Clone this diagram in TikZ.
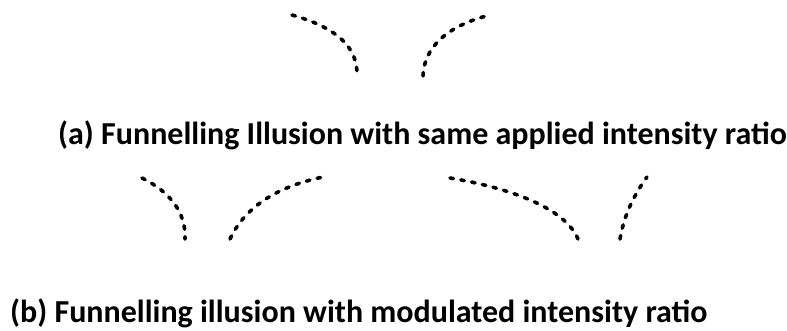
\documentclass[tikz,border=0pt]{standalone}
\usepackage{fontspec}
\setmainfont{Carlito}
\usetikzlibrary{positioning}
\tikzset{
  arc/.style={draw=black, line width=3.6pt, line cap=round,
              dash pattern=on 3.5pt off 7.5pt},
  caption/.style={font=\fontsize{32}{38}\selectfont\bfseries, inner sep=0pt,
              anchor=base west},
}

\begin{document}
\begin{tikzpicture}[x=1pt,y=-1pt]
  \useasboundingbox (0,0) rectangle (787,331);
  % (a) same ratio
  \draw[arc] (292,15) .. controls (338,28) and (358,48) .. (357,76);
  \draw[arc] (423,76) .. controls (424,48) and (446,26) .. (490,15);
  \node[caption] (capA) at (58,145) {(a) Funnelling Illusion with same applied intensity ratio};
  % (b) modulated ratio
  \draw[arc] (142,178) .. controls (170,192) and (186,212) .. (185,239);
  \draw[arc] (230,239) .. controls (246,205) and (280,186) .. (323,177);
  \draw[arc] (450,178) .. controls (510,188) and (565,208) .. (578,239);
  \draw[arc] (620,239) .. controls (624,215) and (634,195) .. (647,177);
  \node[caption] (capB) at (10,322) {(b) Funnelling illusion with modulated intensity ratio};
\end{tikzpicture}
\end{document}
